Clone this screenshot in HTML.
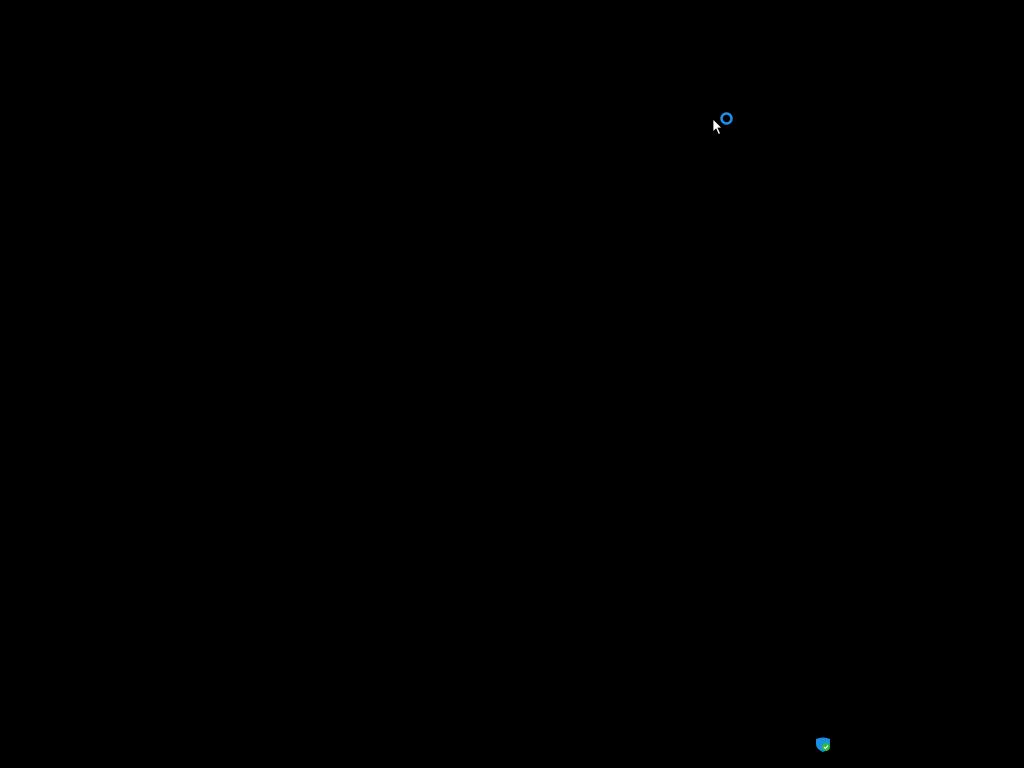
<!DOCTYPE html>
<html><head><style>html,body{margin:0;padding:0;background:#000;width:1024px;height:768px;overflow:hidden}</style></head>
<body>
<svg width="1024" height="768" style="position:absolute;left:0;top:0">
<rect width="1024" height="768" fill="#000"/>
<circle cx="726.5" cy="118.5" r="5" fill="none" stroke="#1e90e8" stroke-width="2.5"/>
<path d="M713,119 L713,132 L716,129 L718.5,134.5 L720.5,133.5 L718,128 L722,128 Z" fill="#fff" stroke="#000" stroke-width="0.8"/>
<path d="M816,739 Q823,736 830,739 L830,744 Q830,749 823,752 Q816,749 816,744 Z" fill="#1a8fe0"/>
<circle cx="826" cy="747" r="4" fill="#2dbb3c"/>
<path d="M824,747 L825.5,748.5 L828,745.5" stroke="#fff" stroke-width="1" fill="none"/>
</svg>
</body></html>
